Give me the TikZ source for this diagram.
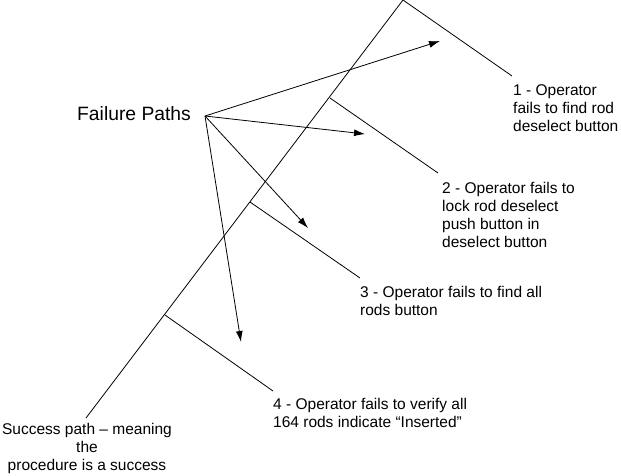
\documentclass[tikz,border=0pt]{standalone}
\usepackage{fontspec}
\setmainfont{Liberation Sans}
\usetikzlibrary{arrows.meta, calc}
\tikzset{
  branch/.style={line width=0.8pt},
  failarrow/.style={line width=0.8pt, -{Latex[length=11pt,width=7pt]}},
  pathlabel/.style={font=\fontsize{15.5}{18.3}\selectfont, align=left, inner sep=0pt, anchor=base west},
  titlelabel/.style={font=\fontsize{19.3}{22}\selectfont, inner sep=0pt, anchor=base west},
  succlabel/.style={font=\fontsize{15.5}{18}\selectfont, align=center, inner sep=0pt, anchor=base}
}
\begin{document}
\begin{tikzpicture}[x=1pt, y=-1pt]
  \useasboundingbox (0,0) rectangle (621,475);
  % success path and its branch points
  \coordinate (top) at (403,0);
  \coordinate (bot) at (86,418);
  \coordinate (b2) at (330,98);
  \coordinate (b3) at (250,202);
  \coordinate (b4) at (165,315);
  \coordinate (e1) at (512,76);
  \coordinate (e2) at (438,173);
  \coordinate (e3) at (360,278);
  \coordinate (e4) at (273,391);
  % arrow start and tips
  \coordinate (fp) at (205,116);
  \coordinate (t1) at (440,41);
  \coordinate (t2) at (365,134);
  \coordinate (t3) at (308,228);
  \coordinate (t4) at (241,342);
  % labels (base = last line)
  \node (fail) [titlelabel] at (77,120) {Failure Paths};
  \node (lab1) [pathlabel] at (513,131.6) {1 - Operator\\fails to find rod\\deselect button};
  \node (lab2) [pathlabel] at (442,247.9) {2 - Operator fails to\\lock rod deselect\\push button in\\deselect button};
  \node (lab3) [pathlabel] at (360,315.3) {3 - Operator fails to find all\\rods button};
  \node (lab4) [pathlabel] at (273,427.3) {4 - Operator fails to verify all\\164 rods indicate “Inserted”};
  \node (succ) [succlabel] at (87,470) {Success path – meaning\\the\\procedure is a success};
  \draw [branch] (bot) -- (top);
  \draw [branch] (top) -- (e1);
  \draw [branch] (b2) -- (e2);
  \draw [branch] (b3) -- (e3);
  \draw [branch] (b4) -- (e4);
  \draw [failarrow] (fp) -- (t1);
  \draw [failarrow] (fp) -- (t2);
  \draw [failarrow] (fp) -- (t3);
  \draw [failarrow] (fp) -- (t4);
\end{tikzpicture}
\end{document}
